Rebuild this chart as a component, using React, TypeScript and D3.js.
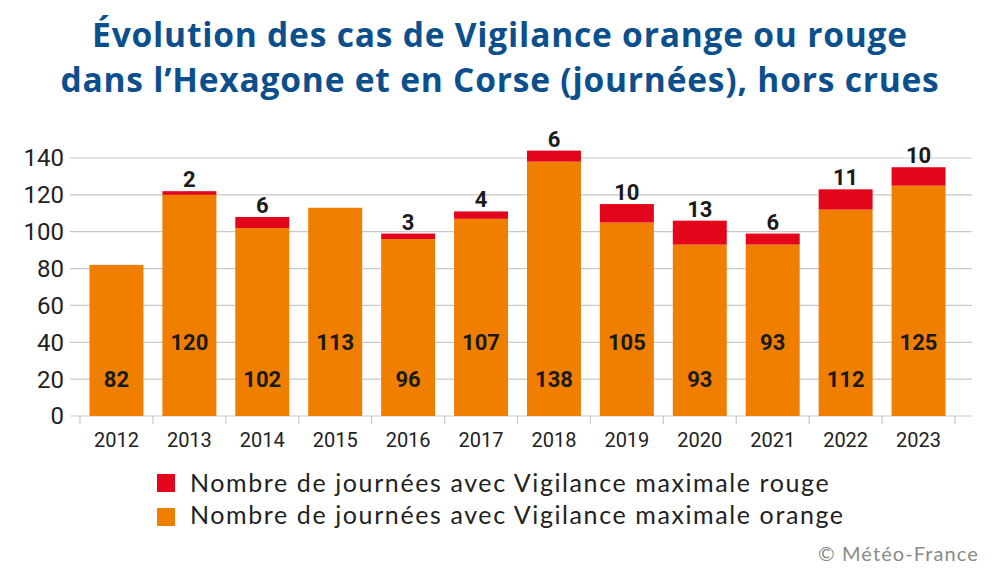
import React from "react";
import * as d3 from "d3";

const years = ["2012","2013","2014","2015","2016","2017","2018","2019","2020","2021","2022","2023"];
const orangeValues = [82,120,102,113,96,107,138,105,93,93,112,125];
const redValues = [0,2,6,0,3,4,6,10,13,6,11,10];
const yTicks = [0,20,40,60,80,100,120,140];
const titleLines = ["Évolution des cas de Vigilance orange ou rouge", "dans l’Hexagone et en Corse (journées), hors crues"];
const legendItems = [
  { label: "Nombre de journées avec Vigilance maximale rouge", color: "#e3051b" },
  { label: "Nombre de journées avec Vigilance maximale orange", color: "#f07f00" },
];

const ORANGE = "#f07f00";
const RED = "#e3051b";

export default function App() {
  const W = 1000, H = 582;
  const x = d3.scaleBand<string>().domain(years).range([80, 955]).paddingInner(0.26).paddingOuter(0.13);
  const y = d3.scaleLinear().domain([0, 140]).range([416, 158]);
  const font = "Roboto, 'Noto Sans', sans-serif";
  return (
    <svg width={W} height={H} style={{ position: "absolute", left: 0, top: 0, background: "#fff" }}>
      {titleLines.map((t, i) => (
        <text key={i} x={500} y={47 + i * 45} textAnchor="middle" fill="#0b4f8c"
          style={{ fontFamily: "'Open Sans', sans-serif", fontWeight: 700, fontSize: 33.5, letterSpacing: 0.8 }}>{t}</text>
      ))}
      {yTicks.map(t => (
        <g key={t}>
          <line x1={70} x2={972} y1={y(t)} y2={y(t)} stroke="#c9c9c9" strokeWidth={1.2} />
          <text x={64} y={y(t)} dy="0.35em" textAnchor="end" fill="#222" style={{ fontFamily: font, fontSize: 24 }}>{t}</text>
        </g>
      ))}
      {d3.range(years.length + 1).map(i => {
        const xx = 80 + i * x.step();
        return <line key={i} x1={xx} x2={xx} y1={416} y2={424} stroke="#c9c9c9" strokeWidth={1.2} />;
      })}
      {years.map((yr, i) => {
        const o = orangeValues[i], r = redValues[i];
        const bx = x(yr)!, bw = x.bandwidth();
        const cx = bx + bw / 2;
        return (
          <g key={yr}>
            <rect x={bx} y={y(o)} width={bw} height={y(0) - y(o)} fill={ORANGE} />
            {r > 0 && <rect x={bx} y={y(o + r)} width={bw} height={y(o) - y(o + r)} fill={RED} />}
            <text x={cx} y={y(i % 2 === 0 ? 20 : 40)} dy="0.36em" textAnchor="middle" fill="#1a1a1a"
              style={{ fontFamily: font, fontWeight: 700, fontSize: 22 }}>{o}</text>
            {r > 0 && <text x={cx} y={y(o + r) - 4} textAnchor="middle" fill="#1a1a1a"
              style={{ fontFamily: font, fontWeight: 700, fontSize: 22 }}>{r}</text>}
            <text x={cx} y={447} textAnchor="middle" fill="#222" style={{ fontFamily: font, fontSize: 20 }}>{yr}</text>
          </g>
        );
      })}
      {legendItems.map((l, i) => (
        <g key={i}>
          <rect x={157} y={474 + i * 34} width={18} height={18} fill={l.color} />
          <text x={190} y={492 + i * 32} fill="#222" style={{ fontFamily: "Lato, sans-serif", fontSize: 25, letterSpacing: 1.6 }}>{l.label}</text>
        </g>
      ))}
      <text x={979} y={561} textAnchor="end" fill="#8a8a8a" style={{ fontFamily: "Lato, sans-serif", fontSize: 20, letterSpacing: 1.1 }}>© Météo-France</text>
    </svg>
  );
}
